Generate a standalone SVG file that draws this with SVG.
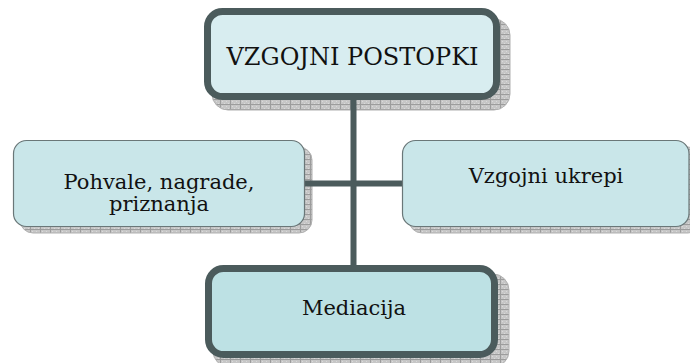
<svg xmlns="http://www.w3.org/2000/svg" width="690" height="363" viewBox="0 0 690 363">
<defs>
<pattern id="grid" width="10" height="5" patternUnits="userSpaceOnUse">
<rect width="10" height="5" fill="#c6c6c6"/>
<rect x="2" y="1" width="1" height="1" fill="#dadada"/>
<rect x="4" y="3" width="1" height="1" fill="#dadada"/>
<rect x="6" y="1" width="1" height="1" fill="#dadada"/>
<rect x="8" y="3" width="1" height="1" fill="#dadada"/>
<path d="M0.5 0V5M0 4.5H10" stroke="#9c9c9c" stroke-width="1"/>
</pattern>
<style>
.shadow{fill:url(#grid);stroke:#b0b0b0;stroke-width:1}
.thick{stroke:#4b5b5c;stroke-width:7}
.thin{stroke:#6a7778;stroke-width:1.2}
.conn{stroke:#4b5b5c;stroke-width:6;fill:none}
text{font-family:"DejaVu Serif","Liberation Serif",serif;fill:#111;text-anchor:middle}
</style>
</defs>
<rect width="690" height="363" fill="#fff"/>
<g id="shadows">
<rect class="shadow" x="212" y="19" width="298" height="91" rx="16"/>
<rect class="shadow" x="20" y="147" width="292" height="86" rx="13"/>
<rect class="shadow" x="409" y="147" width="292" height="86" rx="13"/>
<rect class="shadow" x="213" y="274" width="296" height="93" rx="16"/>
</g>
<g id="connectors">
<line class="conn" x1="353.5" y1="98" x2="353.5" y2="268"/>
<line class="conn" x1="305" y1="183.5" x2="402" y2="183.5" stroke-width="5.5"/>
</g>
<g id="node-top">
<rect class="thick" x="207.5" y="11.5" width="289" height="85" rx="15" fill="#d8edf0"/>
<text x="352.5" y="65" font-size="24">VZGOJNI POSTOPKI</text>
</g>
<g id="node-left">
<rect class="thin" x="13.5" y="140.5" width="291" height="86" rx="13" fill="#c9e6e9"/>
<text x="159" y="189" font-size="21">Pohvale, nagrade,</text>
<text x="159" y="211" font-size="21">priznanja</text>
</g>
<g id="node-right">
<rect class="thin" x="402.5" y="140.5" width="286.5" height="86" rx="13" fill="#c9e6e9"/>
<text x="546" y="183" font-size="21">Vzgojni ukrepi</text>
</g>
<g id="node-bottom">
<rect class="thick" x="208.5" y="268.5" width="286" height="86" rx="15" fill="#bde1e4"/>
<text x="354" y="315" font-size="21">Mediacija</text>
</g>
</svg>
